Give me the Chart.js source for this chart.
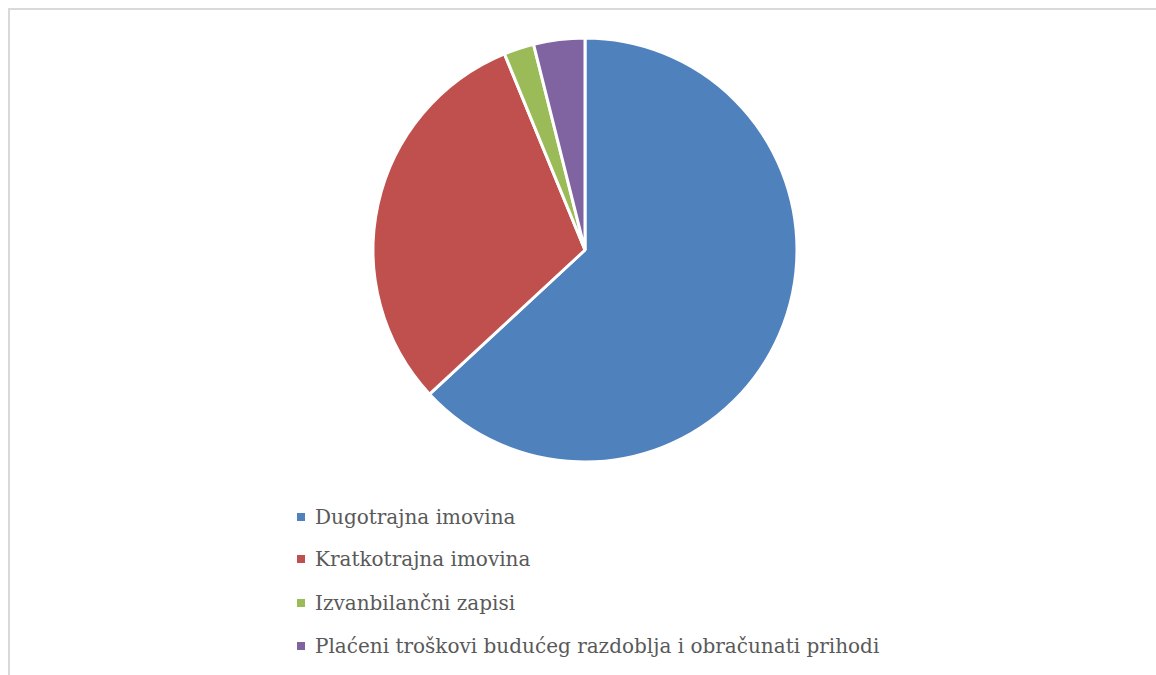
<!DOCTYPE html>
<html>
<head>
<meta charset="utf-8">
<script src="https://cdn.jsdelivr.net/npm/chart.js@4.4.1/dist/chart.umd.min.js"></script>
<style>
  html, body { margin: 0; padding: 0; background: #fff; overflow: hidden; }
  #frame { position: absolute; left: 8px; top: 8px; width: 1170px; height: 700px; border: 2px solid #d9d9d9; box-sizing: border-box; }
  #wrap { position: absolute; left: 0; top: 0; width: 1156px; height: 500px; }
  #legend { position: absolute; left: 297px; top: 0; margin: 0; padding: 0; list-style: none;
    font-family: "DejaVu Serif", serif; font-size: 20px; color: #595959; }
  #legend li { position: absolute; white-space: nowrap; display: flex; align-items: center; }
  #legend .box { display: inline-block; width: 8px; height: 8px; margin-right: 10px; }
</style>
</head>
<body>
<div id="frame"></div>
<div id="wrap"><canvas id="pie"></canvas></div>
<ul id="legend"></ul>
<script>
const categories = [
  'Dugotrajna imovina',
  'Kratkotrajna imovina',
  'Izvanbilančni zapisi',
  'Plaćeni troškovi budućeg razdoblja i obračunati prihodi'
];
const shares = [63.1, 30.7, 2.3, 3.9];
const colors = ['#4f81bd', '#c0504d', '#9bbb59', '#8064a2'];

new Chart(document.getElementById('pie'), {
  type: 'pie',
  data: {
    labels: categories,
    datasets: [{
      data: shares,
      backgroundColor: colors,
      borderColor: '#ffffff',
      borderWidth: 3,
      radius: 212
    }]
  },
  options: {
    responsive: true,
    maintainAspectRatio: false,
    animation: false,
    layout: { padding: { left: 14 } },
    plugins: { legend: { display: false }, tooltip: { enabled: false } }
  }
});

// legend as a plain list under the pie
const legend = document.getElementById('legend');
const rowTops = [517, 559, 603, 646];
categories.forEach((name, i) => {
  const li = document.createElement('li');
  li.style.top = (rowTops[i] - 12) + 'px';
  li.style.height = '24px';
  li.innerHTML = '<span class="box" style="background:' + colors[i] + '"></span><span>' + name + '</span>';
  legend.appendChild(li);
});
</script>
</body>
</html>
